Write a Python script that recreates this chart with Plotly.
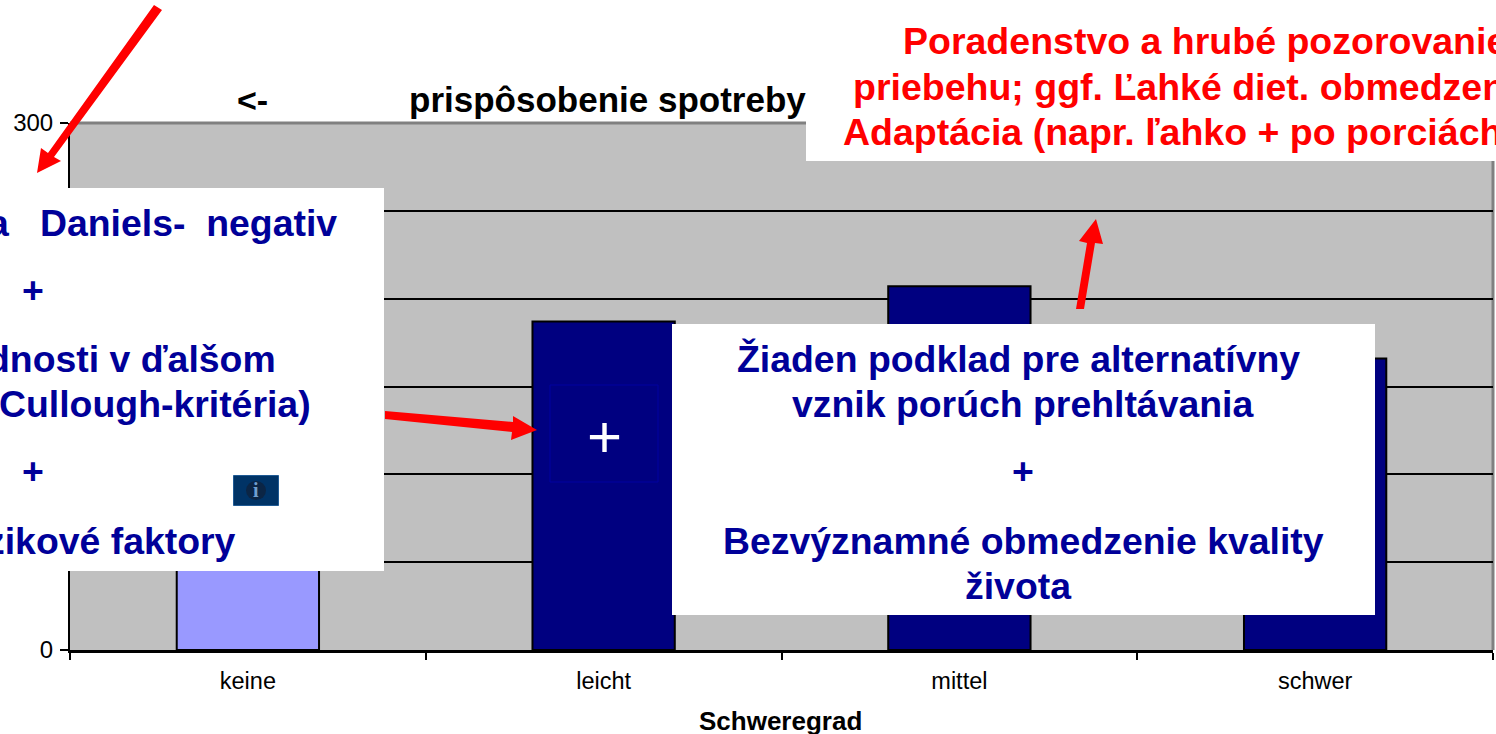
import plotly.graph_objects as go

categories = ["keine", "leicht", "mittel", "schwer"]
values = [150, 187, 207, 166]
bar_colors = ["#9999FF", "#000080", "#000080", "#000080"]
NAVY = "#000099"
RED = "#FF0000"

W, H = 1496, 734
L, R, T, B = 70, 1493, 123, 650


def px(x):
    return (x - L) / (R - L)


def py(y):
    return (B - y) / (B - T)


def poly(points):
    d = "M " + " L ".join(f"{px(x):.5f},{py(y):.5f}" for x, y in points) + " Z"
    return dict(type="path", xref="paper", yref="paper", path=d,
                fillcolor=RED, line=dict(width=0), layer="above")


def rect(x0, y0, x1, y1, fill, line=None, lw=0):
    return dict(type="rect", xref="paper", yref="paper",
                x0=px(x0), x1=px(x1), y0=py(y0), y1=py(y1),
                fillcolor=fill, line=dict(color=line or fill, width=lw), layer="above")


def text(t, x, y, color=NAVY, size=37.4, anchor="center", bold=True, family="Liberation Sans"):
    s = f"<b>{t}</b>" if bold else t
    return dict(text=s, x=px(x), y=py(y), xref="paper", yref="paper", showarrow=False,
                xanchor=anchor, yanchor="middle", align=anchor,
                font=dict(family=family, size=size, color=color))


shapes = [
    # arrows
    poly([(154, 5), (162, 10), (54, 157), (61, 161), (37, 173), (41, 148), (48, 153)]),
    poly([(385, 411), (513, 422), (513, 416), (537, 430), (511, 440), (512, 432), (385, 419)]),
    poly([(1076, 309), (1087, 243), (1079, 241), (1096, 219), (1103, 244), (1095, 243), (1084, 309)]),
    # white boxes
    rect(0, 188, 384, 571, "white"),
    rect(672, 324, 1375, 615, "white"),
    rect(806, 0, 1496, 161, "white"),
    # inner selection rectangle on the leicht bar
    rect(550, 385, 658, 482, "rgba(0,0,0,0)", "#0000A0", 1),
    # info icon
    rect(233.5, 475.5, 278.5, 505.5, "#003366", "#1F5A94", 1),
    dict(type="circle", xref="paper", yref="paper", x0=px(246), x1=px(266), y0=py(500), y1=py(481),
         fillcolor="#0B2545", line=dict(width=0), layer="above"),
]

annotations = [
    text("a\u00a0\u00a0\u00a0Daniels-\u00a0\u00a0negativ", 339, 222.5, anchor="right"),
    text("+", 33, 290),
    text("dnosti v ďalšom", 278, 359, anchor="right"),
    text("Cullough-kritéria)", 313, 404, anchor="right"),
    text("+", 33, 471),
    text("zikové faktory", 238, 541, anchor="right"),
    text("Žiaden podklad pre alternatívny", 1018, 359),
    text("vznik porúch prehltávania", 1023, 404),
    text("+", 1023, 471),
    text("Bezvýznamné obmedzenie kvality", 1023, 541),
    text("života", 1018, 586),
    text("Poradenstvo a hrubé pozorovanie", 901, 41, RED, 37.5, "left"),
    text("priebehu; ggf. Ľahké diet. obmedzenie", 851, 87, RED, 37.5, "left"),
    text("Adaptácia (napr. ľahko + po porciách)", 841, 132, RED, 37.5, "left"),
    text("+", 604, 436, "white", 60, bold=False),
    text("i", 256, 490, "#6F9FCF", 20, family="Liberation Serif"),
    text("<-", 235, 100, "black", 34, "left"),
    text("prispôsobenie spotreby", 407, 100, "black", 35, "left"),
    text("Schweregrad", 780, 721, "black", 26),
]

fig = go.Figure(go.Bar(
    x=categories, y=values, width=0.4,
    marker=dict(color=bar_colors, line=dict(color="black", width=2)),
))

fig.update_layout(
    width=W, height=H,
    margin=dict(l=L, r=W - R, t=T, b=H - B, pad=0),
    paper_bgcolor="white", plot_bgcolor="#C0C0C0",
    showlegend=False, shapes=shapes, annotations=annotations,
    font=dict(family="Liberation Sans", color="black", size=23),
)
fig.update_xaxes(
    type="category", tickson="boundaries", ticks="outside", ticklen=7, tickwidth=2,
    tickcolor="black", showline=True, linecolor="black", linewidth=3, showgrid=False,
    tickfont=dict(size=23.5), ticklabelstandoff=8,
)
fig.update_yaxes(
    range=[0, 300], dtick=50, ticks="outside", ticklen=8, tickwidth=2, tickcolor="black",
    showline=True, linecolor="black", linewidth=2, gridcolor="black", gridwidth=2,
    zeroline=False, tickfont=dict(size=24), ticklabelstandoff=2,
)
fig.add_shape(type="line", xref="paper", yref="paper", x0=0, x1=1, y0=1, y1=1,
              line=dict(color="#808080", width=3), layer="below")
fig.add_shape(type="line", xref="paper", yref="paper", x0=1, x1=1, y0=0, y1=1,
              line=dict(color="#808080", width=3), layer="below")

fig.write_html("out.html", config=dict(displayModeBar=False),
               post_script="document.body.style.margin='0';document.body.style.overflow='hidden';")
